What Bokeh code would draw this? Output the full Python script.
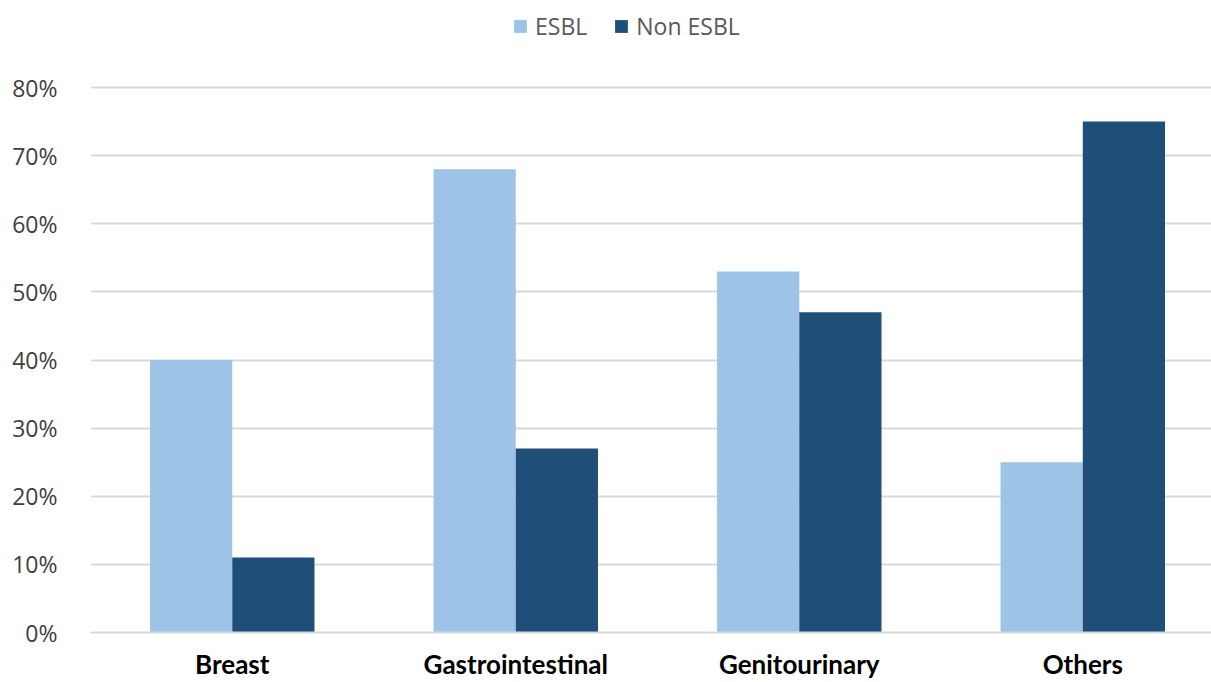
from bokeh.plotting import figure
from bokeh.models import ColumnDataSource, Legend, LegendItem, FixedTicker, Range1d
from bokeh.embed import file_html
from bokeh.resources import INLINE

categories = ["Breast", "Gastrointestinal", "Genitourinary", "Others"]
esbl = [40, 68, 53, 25]
non_esbl = [11, 27, 47, 75]
y_ticks = [0, 10, 20, 30, 40, 50, 60, 70, 80]
series_names = ["ESBL", "Non ESBL"]
colors = ["#9DC3E6", "#1F4E79"]

bw = 0.29
idx = list(range(len(categories)))
src = ColumnDataSource(dict(
    x1=[i + 0.5 - bw / 2 for i in idx],
    x2=[i + 0.5 + bw / 2 for i in idx],
    esbl=esbl, non=non_esbl,
))

p = figure(width=1211, height=682, output_backend="svg", toolbar_location=None,
           x_range=Range1d(0, 3.954), y_range=Range1d(0, 92.04),
           min_border_left=90, min_border_right=0, min_border_top=5, min_border_bottom=50)
p.outline_line_color = None

r1 = p.vbar(x="x1", top="esbl", width=bw, source=src, fill_color=colors[0], line_color=None)
r2 = p.vbar(x="x2", top="non", width=bw, source=src, fill_color=colors[1], line_color=None)

p.yaxis.ticker = FixedTicker(ticks=y_ticks)
p.yaxis.major_label_overrides = {t: f"{t}%" for t in y_ticks}
p.yaxis.axis_line_color = None
p.yaxis.major_tick_line_color = None
p.yaxis.minor_tick_line_color = None
p.yaxis.major_label_text_font = "Open Sans"
p.yaxis.major_label_text_font_size = "23px"
p.yaxis.major_label_text_color = "#404040"
p.yaxis.major_label_standoff = 27

p.xaxis.ticker = FixedTicker(ticks=[i + 0.5 for i in idx])
p.xaxis.major_label_overrides = {i + 0.5: c for i, c in zip(idx, categories)}
p.xaxis.axis_line_color = "#D9D9D9"
p.xaxis.axis_line_width = 2
p.xaxis.major_tick_line_color = None
p.xaxis.minor_tick_line_color = None
p.xaxis.major_label_text_font = "Lato"
p.xaxis.major_label_text_font_style = "bold"
p.xaxis.major_label_text_font_size = "26px"
p.xaxis.major_label_text_color = "#000000"
p.xaxis.major_label_standoff = 9

p.xgrid.grid_line_color = None
p.ygrid.grid_line_color = "#D9D9D9"
p.ygrid.grid_line_width = 2

legend = Legend(items=[LegendItem(label=series_names[0], renderers=[r1]),
                       LegendItem(label=series_names[1], renderers=[r2])],
                orientation="horizontal", location=(422, 590),
                label_text_font="Open Sans", label_text_font_size="23px",
                label_text_color="#595959", glyph_width=16, glyph_height=16,
                label_standoff=7, spacing=26, padding=0, margin=0,
                border_line_color=None, background_fill_alpha=0)
p.add_layout(legend, "center")

open("out.html", "w").write(file_html(p, INLINE))
